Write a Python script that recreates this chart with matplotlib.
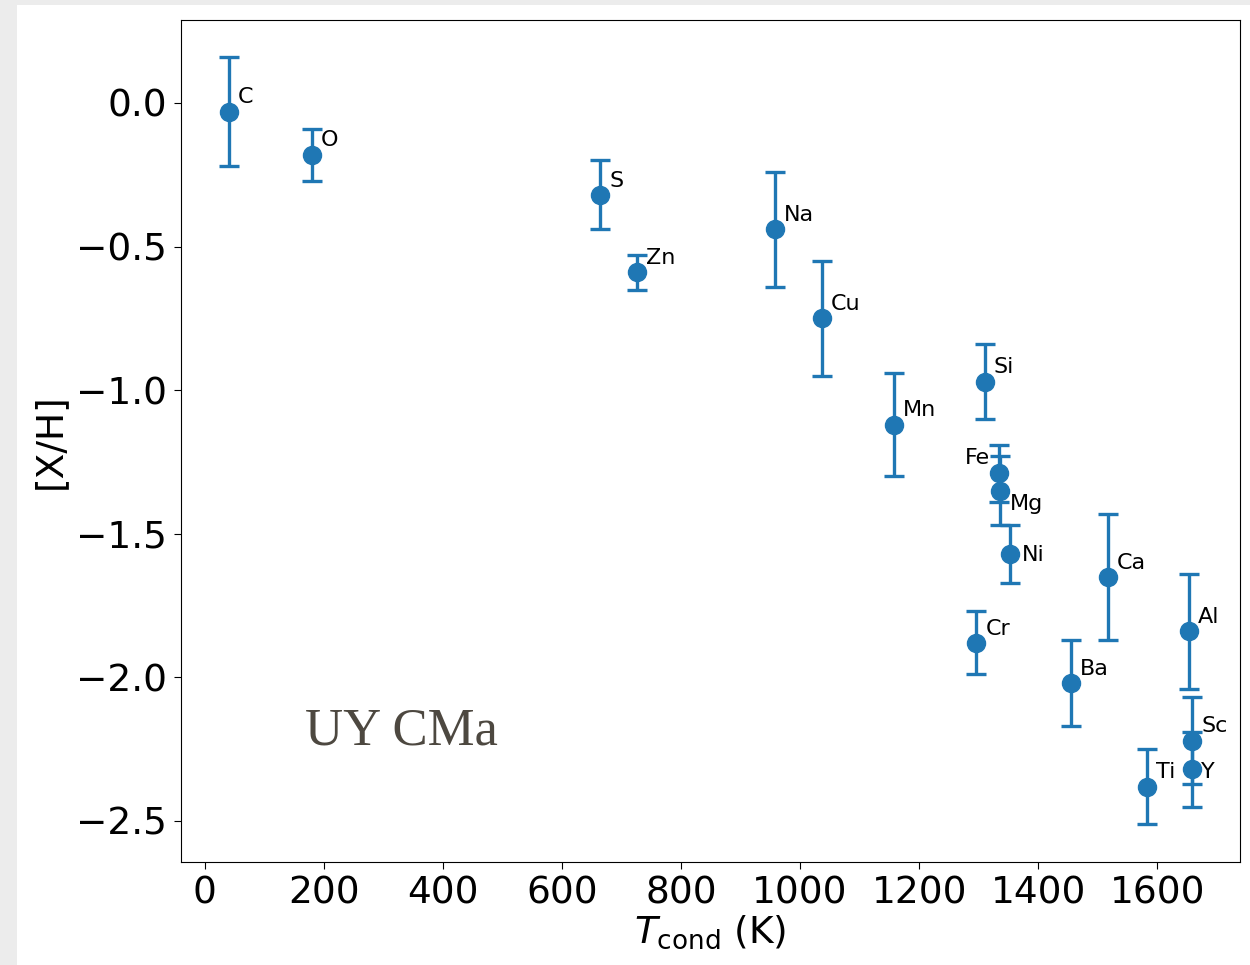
import numpy as np
import matplotlib.pyplot as plt
from matplotlib.patches import Rectangle

# element abundances vs condensation temperature
elements = ['C', 'O', 'S', 'Zn', 'Na', 'Cu', 'Mn', 'Si', 'Fe', 'Mg',
            'Ni', 'Cr', 'Ba', 'Ca', 'Al', 'Ti', 'Sc', 'Y']
tcond = [40, 180, 664, 726, 958, 1037, 1158, 1310, 1334, 1336,
         1353, 1296, 1455, 1517, 1653, 1582, 1659, 1659]
xh = [-0.03, -0.18, -0.32, -0.59, -0.44, -0.75, -1.12, -0.97, -1.29, -1.35,
      -1.57, -1.88, -2.02, -1.65, -1.84, -2.38, -2.22, -2.32]
xh_err = [0.19, 0.09, 0.12, 0.06, 0.20, 0.20, 0.18, 0.13, 0.10, 0.12,
          0.10, 0.11, 0.15, 0.22, 0.20, 0.13, 0.15, 0.13]

# label offsets in points (dx, dy, ha)
offsets = {'Fe': (-6.5, 6.5, 'right'), 'Mg': (7, -14, 'left'),
           'Ni': (8.5, -5, 'left'), 'Y': (6, -6, 'left')}

fig = plt.figure(figsize=(12.5, 9.65), dpi=100, facecolor='#ececec')
fig.patches.append(Rectangle((0.0136, 0), 1, 0.9948, transform=fig.transFigure,
                             facecolor='white', edgecolor='none', zorder=-1))
ax = fig.add_axes([0.1448, 0.1067, 0.8472, 0.8726])

ax.errorbar(tcond, xh, yerr=xh_err, fmt='o', color='#1f77b4', ms=13,
            elinewidth=2.4, capsize=7, capthick=2.4)

for name, t, v in zip(elements, tcond, xh):
    dx, dy, ha = offsets.get(name, (6.5, 6, 'left'))
    ax.annotate(name, (t, v), xytext=(dx, dy), textcoords='offset points',
                ha=ha, va='baseline', fontsize=16)

ax.text(0.117, 0.139, 'UY CMa', transform=ax.transAxes, fontsize=38,
        family='Liberation Serif', color='#4d4840', va='baseline')

ax.set_xlim(-40, 1739)
ax.set_ylim(-2.643, 0.289)
ax.set_xticks(np.arange(0, 1601, 200))
ax.set_yticks([0.0, -0.5, -1.0, -1.5, -2.0, -2.5])
ax.tick_params(labelsize=27, length=5, pad=5)
ax.set_xlabel(r'$T_{\rm cond}$ (K)', fontsize=27, labelpad=1)
ax.set_ylabel('[X/H]', fontsize=27, labelpad=6)

plt.savefig('out.png', dpi=100, facecolor=fig.get_facecolor())
